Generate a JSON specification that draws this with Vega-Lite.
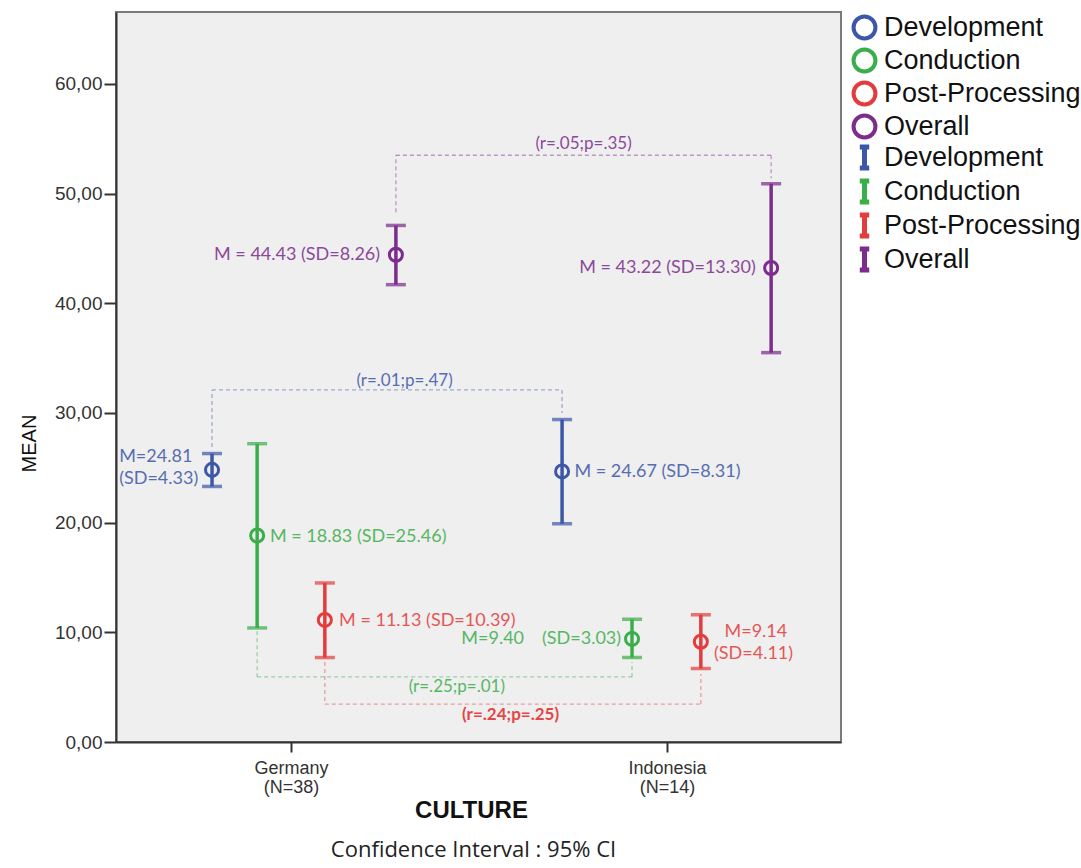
{
  "$schema": "https://vega.github.io/schema/vega-lite/v6.json",
  "width": 725,
  "height": 730,
  "padding": {"left": 19, "top": 12, "right": 0, "bottom": 12},
  "background": "white",
  "title": {
    "text": "Confidence Interval : 95% CI",
    "orient": "bottom",
    "anchor": "middle",
    "frame": "group",
    "font": "Open Sans",
    "fontSize": 22,
    "fontWeight": "normal",
    "color": "#222222",
    "offset": 18,
    "dx": -5
  },
  "resolve": {"legend": {"color": "independent", "stroke": "independent"}},
  "config": {
    "view": {"fill": "#efefef", "stroke": "#7a7a7a", "strokeWidth": 2},
    "axis": {
      "grid": false,
      "domainColor": "#333333",
      "domainWidth": 2,
      "tickColor": "#333333",
      "tickWidth": 2,
      "labelFont": "Liberation Sans",
      "labelColor": "#333333",
      "titleFont": "Liberation Sans",
      "titleColor": "#111111"
    },
    "legend": {
      "labelFont": "Liberation Sans",
      "labelFontSize": 27,
      "labelColor": "#111111",
      "labelLimit": 0,
      "padding": 2,
      "labelOffset": 6
    }
  },
  "datasets": {
    "pts": [
      {"measure": "Development", "country": "Germany", "xpos": 0.790, "mean": 24.81, "lo": 23.3, "hi": 26.3},
      {"measure": "Conduction", "country": "Germany", "xpos": 0.910, "mean": 18.83, "lo": 10.4, "hi": 27.2},
      {"measure": "Post-Processing", "country": "Germany", "xpos": 1.090, "mean": 11.13, "lo": 7.7, "hi": 14.5},
      {"measure": "Overall", "country": "Germany", "xpos": 1.279, "mean": 44.43, "lo": 41.7, "hi": 47.1},
      {"measure": "Development", "country": "Indonesia", "xpos": 1.721, "mean": 24.67, "lo": 19.9, "hi": 29.4},
      {"measure": "Conduction", "country": "Indonesia", "xpos": 1.907, "mean": 9.40, "lo": 7.7, "hi": 11.2},
      {"measure": "Post-Processing", "country": "Indonesia", "xpos": 2.090, "mean": 9.14, "lo": 6.7, "hi": 11.6},
      {"measure": "Overall", "country": "Indonesia", "xpos": 2.277, "mean": 43.22, "lo": 35.5, "hi": 50.9}
    ],
    "brackets": [
      {"measure": "Overall", "xa": 1.279, "ya": 48.3, "xb": 1.279, "yb": 53.5},
      {"measure": "Overall", "xa": 1.279, "ya": 53.5, "xb": 2.277, "yb": 53.5},
      {"measure": "Overall", "xa": 2.277, "ya": 53.5, "xb": 2.277, "yb": 51.4},
      {"measure": "Development", "xa": 0.790, "ya": 26.9, "xb": 0.790, "yb": 32.1},
      {"measure": "Development", "xa": 0.790, "ya": 32.1, "xb": 1.721, "yb": 32.1},
      {"measure": "Development", "xa": 1.721, "ya": 32.1, "xb": 1.721, "yb": 30.0},
      {"measure": "Conduction", "xa": 0.910, "ya": 10.1, "xb": 0.910, "yb": 5.93},
      {"measure": "Conduction", "xa": 0.910, "ya": 5.93, "xb": 1.907, "yb": 5.93},
      {"measure": "Conduction", "xa": 1.907, "ya": 5.93, "xb": 1.907, "yb": 7.3},
      {"measure": "Post-Processing", "xa": 1.090, "ya": 7.3, "xb": 1.090, "yb": 3.46},
      {"measure": "Post-Processing", "xa": 1.090, "ya": 3.46, "xb": 2.090, "yb": 3.46},
      {"measure": "Post-Processing", "xa": 2.090, "ya": 3.46, "xb": 2.090, "yb": 6.2}
    ],
    "rp": [
      {"measure": "Overall", "x": 1.778, "y": 54.5, "label": "(r=.05;p=.35)"},
      {"measure": "Development", "x": 1.302, "y": 32.9, "label": "(r=.01;p=.47)"},
      {"measure": "Conduction", "x": 1.441, "y": 5.0, "label": "(r=.25;p=.01)"}
    ],
    "rpBold": [
      {"measure": "Post-Processing", "x": 1.584, "y": 2.46, "label": "(r=.24;p=.25)"}
    ],
    "lblL": [
      {"measure": "Development", "x": 0.543, "y": 26.0, "label": "M=24.81"},
      {"measure": "Development", "x": 0.543, "y": 24.0, "label": "(SD=4.33)"},
      {"measure": "Conduction", "x": 0.944, "y": 18.7, "label": "M = 18.83 (SD=25.46)"},
      {"measure": "Post-Processing", "x": 1.128, "y": 11.0, "label": "M = 11.13 (SD=10.39)"},
      {"measure": "Conduction", "x": 1.453, "y": 9.4, "label": "M=9.40"},
      {"measure": "Development", "x": 1.754, "y": 24.6, "label": "M = 24.67 (SD=8.31)"},
      {"measure": "Post-Processing", "x": 2.153, "y": 10.0, "label": "M=9.14"},
      {"measure": "Post-Processing", "x": 2.125, "y": 8.0, "label": "(SD=4.11)"}
    ],
    "lblR": [
      {"measure": "Overall", "x": 1.237, "y": 44.4, "label": "M = 44.43 (SD=8.26)"},
      {"measure": "Overall", "x": 2.236, "y": 43.2, "label": "M = 43.22 (SD=13.30)"},
      {"measure": "Conduction", "x": 1.878, "y": 9.4, "label": "(SD=3.03)"}
    ]
  },
  "encoding": {
    "x": {
      "type": "quantitative",
      "scale": {"domain": [0.5346, 2.4628], "nice": false, "zero": false},
      "axis": {
        "title": "CULTURE",
        "titleFontSize": 24,
        "titleFontWeight": "bold",
        "titlePadding": 2,
        "titleX": 355,
        "titleAlign": "center",
        "values": [1, 2],
        "labelExpr": "datum.value == 1 ? ['Germany','(N=38)'] : ['Indonesia','(N=14)']",
        "labelFontSize": 18,
        "labelLineHeight": 19,
        "labelPadding": 7,
        "tickSize": 10
      }
    },
    "y": {
      "type": "quantitative",
      "scale": {"domain": [0, 66.56], "nice": false},
      "axis": {
        "title": "MEAN",
        "titleFontSize": 20,
        "titleFontWeight": "normal",
        "titlePadding": 15,
        "titleY": 431,
        "values": [0, 10, 20, 30, 40, 50, 60],
        "labelExpr": "replace(format(datum.value, '.2f'), '.', ',')",
        "labelFontSize": 19,
        "labelPadding": 2,
        "tickSize": 12
      }
    }
  },
  "layer": [
    {
      "data": {"name": "brackets"},
      "mark": {"type": "rule", "strokeDash": [4, 3], "strokeWidth": 1.3, "opacity": 0.45},
      "encoding": {
        "x": {"field": "xa"},
        "x2": {"field": "xb"},
        "y": {"field": "ya"},
        "y2": {"field": "yb"},
        "color": {
          "field": "measure", "type": "nominal", "legend": null,
          "scale": {"domain": ["Development", "Conduction", "Post-Processing", "Overall"], "range": ["#3c57a8", "#3aae4a", "#e43c3c", "#7b2c8c"]}
        }
      }
    },
    {
      "data": {"name": "pts"},
      "mark": {"type": "point", "filled": false, "shape": "circle", "size": 170, "strokeWidth": 3, "opacity": 1},
      "encoding": {
        "x": {"field": "xpos"},
        "y": {"field": "mean"},
        "color": {
          "field": "measure", "type": "nominal",
          "legend": {"title": null, "orient": "none", "legendX": 733, "legendY": 0, "symbolType": "circle", "symbolSize": 480, "symbolStrokeWidth": 4, "symbolFillColor": "transparent", "rowPadding": -9}
        }
      }
    },
    {
      "data": {"name": "pts"},
      "mark": {"type": "rule", "strokeWidth": 3.5},
      "encoding": {
        "x": {"field": "xpos"},
        "y": {"field": "lo"},
        "y2": {"field": "hi"},
        "stroke": {
          "field": "measure", "type": "nominal",
          "scale": {"domain": ["Development", "Conduction", "Post-Processing", "Overall"], "range": ["#3c57a8", "#3aae4a", "#e43c3c", "#7b2c8c"]},
          "legend": {
            "title": null,
            "orient": "none",
            "legendX": 733,
            "legendY": 130,
            "symbolType": "M-0.45,-1H0.45M0,-1V1M-0.45,1H0.45",
            "symbolSize": 440,
            "symbolStrokeWidth": 5,
            "symbolFillColor": "transparent",
            "rowPadding": -11
          }
        }
      }
    },
    {
      "data": {"name": "pts"},
      "mark": {"type": "tick", "orient": "horizontal", "size": 17, "thickness": 0.5, "strokeWidth": 3},
      "encoding": {
        "x": {"field": "xpos"},
        "y": {"field": "lo"},
        "stroke": {"field": "measure", "type": "nominal", "legend": null}
      }
    },
    {
      "data": {"name": "pts"},
      "mark": {"type": "tick", "orient": "horizontal", "size": 17, "thickness": 0.5, "strokeWidth": 3},
      "encoding": {
        "x": {"field": "xpos"},
        "y": {"field": "hi"},
        "stroke": {"field": "measure", "type": "nominal", "legend": null}
      }
    },
    {
      "data": {"name": "rp"},
      "mark": {"type": "text", "font": "Lato", "fontSize": 17, "baseline": "middle", "align": "center", "opacity": 0.85},
      "encoding": {
        "x": {"field": "x"},
        "y": {"field": "y"},
        "text": {"field": "label"},
        "color": {"field": "measure", "type": "nominal", "legend": null}
      }
    },
    {
      "data": {"name": "rpBold"},
      "mark": {"type": "text", "font": "Lato", "fontSize": 17, "fontWeight": "bold", "baseline": "middle", "align": "center", "opacity": 0.95},
      "encoding": {
        "x": {"field": "x"},
        "y": {"field": "y"},
        "text": {"field": "label"},
        "color": {"field": "measure", "type": "nominal", "legend": null}
      }
    },
    {
      "data": {"name": "lblL"},
      "mark": {"type": "text", "font": "Lato", "fontSize": 18, "baseline": "middle", "align": "left", "opacity": 0.85},
      "encoding": {
        "x": {"field": "x"},
        "y": {"field": "y"},
        "text": {"field": "label"},
        "color": {"field": "measure", "type": "nominal", "legend": null}
      }
    },
    {
      "data": {"name": "lblR"},
      "mark": {"type": "text", "font": "Lato", "fontSize": 18, "baseline": "middle", "align": "right", "opacity": 0.85},
      "encoding": {
        "x": {"field": "x"},
        "y": {"field": "y"},
        "text": {"field": "label"},
        "color": {"field": "measure", "type": "nominal", "legend": null}
      }
    }
  ]
}
